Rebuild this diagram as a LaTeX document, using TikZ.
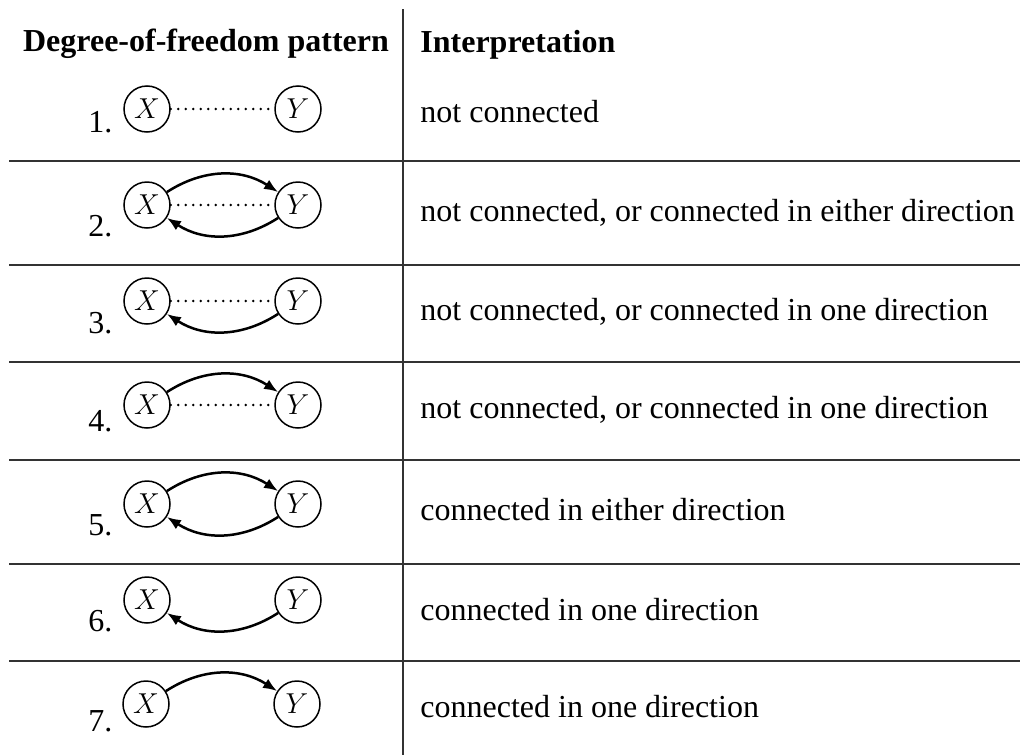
\documentclass[tikz,border=0pt]{standalone}
\usepackage{fontspec}
\setmainfont{Liberation Serif}
\usetikzlibrary{arrows.meta}
\begin{document}
\begin{tikzpicture}[x=0.5pt,y=-0.5pt,
  var/.style={circle,draw,line width=0.75pt,minimum size=23pt,inner sep=0pt,font=\fontsize{15}{17}\selectfont},
  dof/.style={line width=1.35pt,line cap=round,dash pattern=on 0pt off 3.75pt},
  edge/.style={line width=1.25pt,-{Latex[length=7pt,width=5.4pt]},bend left=33},
  rule/.style={line width=0.6pt,draw=black!80},
  num/.style={anchor=base west,inner sep=0pt,font=\fontsize{16}{19}\selectfont},
  txt/.style={anchor=base west,inner sep=0pt,font=\fontsize{16}{19}\selectfont},
  head/.style={inner sep=0pt,font=\fontsize{16}{19}\selectfont\bfseries}]
\useasboundingbox (0,0) rectangle (1020,755);
% table rules
\draw[rule] (403,9) -- (403,755);
\foreach \yy in {161,265,362,460,564,661} {\draw[rule] (9,\yy) -- (1020,\yy);}
% header
\node[head,anchor=base] (h1) at (206,51) {Degree-of-freedom pattern};
\node[head,anchor=base west] (h2) at (420,52) {Interpretation};
% row 1
\node[var] (x1) at (147,109) {$X$};
\node[var] (y1) at (298,109) {$Y$};
\draw[dof] (x1) -- (y1);
\node[num] (n1) at (88,132) {1.};
\node[txt] (t1) at (420,122) {not connected};
% row 2
\node[var] (x2) at (147,205) {$X$};
\node[var] (y2) at (298,205) {$Y$};
\draw[dof] (x2) -- (y2);
\draw[edge] (x2) to (y2);
\draw[edge] (y2) to (x2);
\node[num] (n2) at (88,236) {2.};
\node[txt] (t2) at (420,221) {not connected, or connected in either direction};
% row 3
\node[var] (x3) at (147,301) {$X$};
\node[var] (y3) at (298,301) {$Y$};
\draw[dof] (x3) -- (y3);
\draw[edge] (y3) to (x3);
\node[num] (n3) at (88,333) {3.};
\node[txt] (t3) at (420,320) {not connected, or connected in one direction};
% row 4
\node[var] (x4) at (147,405) {$X$};
\node[var] (y4) at (298,405) {$Y$};
\draw[dof] (x4) -- (y4);
\draw[edge] (x4) to (y4);
\node[num] (n4) at (88,431) {4.};
\node[txt] (t4) at (420,418) {not connected, or connected in one direction};
% row 5
\node[var] (x5) at (147,504) {$X$};
\node[var] (y5) at (298,504) {$Y$};
\draw[edge] (x5) to (y5);
\draw[edge] (y5) to (x5);
\node[num] (n5) at (88,535) {5.};
\node[txt] (t5) at (420,520) {connected in either direction};
% row 6
\node[var] (x6) at (147,600) {$X$};
\node[var] (y6) at (298,600) {$Y$};
\draw[edge] (y6) to (x6);
\node[num] (n6) at (88,631) {6.};
\node[txt] (t6) at (420,620) {connected in one direction};
% row 7
\node[var] (x7) at (146,704) {$X$};
\node[var] (y7) at (297,704) {$Y$};
\draw[edge] (x7) to (y7);
\node[num] (n7) at (88,731) {7.};
\node[txt] (t7) at (420,717) {connected in one direction};
\end{tikzpicture}
\end{document}
